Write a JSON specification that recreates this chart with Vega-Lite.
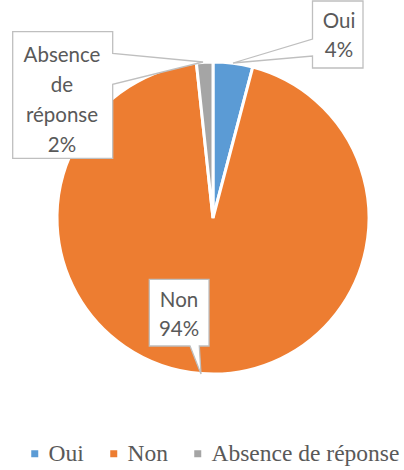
{
  "$schema": "https://vega.github.io/schema/vega-lite/v6.json",
  "width": 382,
  "height": 436,
  "autosize": {"type": "none"},
  "padding": {"left": 22, "top": 0, "right": 0, "bottom": 34},
  "background": "white",
  "config": {"view": {"stroke": null}},
  "data": {
    "values": [
      {"categorie": "Oui", "valeur": 4.1, "ordre": 1},
      {"categorie": "Non", "valeur": 94.2, "ordre": 2},
      {"categorie": "Absence de réponse", "valeur": 1.7, "ordre": 3}
    ]
  },
  "transform": [
    {"calculate": "split(datum.categorie + ' ' + format(datum.valeur / 100, '.0%'), ' ')", "as": "etiquette"}
  ],
  "layer": [
    {
      "mark": {"type": "arc", "outerRadius": 156, "stroke": "white", "strokeWidth": 3},
      "encoding": {
        "theta": {"field": "valeur", "type": "quantitative", "stack": true},
        "order": {"field": "ordre", "type": "quantitative", "sort": "ascending"},
        "color": {
          "field": "categorie",
          "type": "nominal",
          "scale": {"domain": ["Oui", "Non", "Absence de réponse"], "range": ["#5B9BD5", "#ED7D31", "#A5A5A5"]},
          "legend": {
            "orient": "none",
            "legendX": 1,
            "legendY": 442,
            "padding": 0,
            "direction": "horizontal",
            "gridAlign": "none",
            "title": null,
            "symbolType": "square",
            "symbolSize": 49,
            "symbolStrokeWidth": 0,
            "labelFont": "Liberation Serif",
            "labelFontSize": 23.5,
            "labelColor": "#595959",
            "labelOffset": 2,
            "labelLimit": 400,
            "columnPadding": 18
          }
        }
      }
    },
    {
      "transform": [{"filter": "datum.categorie == 'Oui'"}],
      "mark": {"type": "point", "filled": true, "fill": "white", "stroke": "#BFBFBF", "strokeWidth": 1.3, "opacity": 1, "size": 4,
        "shape": "M99.5,-217H150V-150H99.5V-162L20,-155L99.5,-179Z"},
      "encoding": {}
    },
    {
      "transform": [{"filter": "datum.categorie == 'Absence de réponse'"}],
      "mark": {"type": "point", "filled": true, "fill": "white", "stroke": "#BFBFBF", "strokeWidth": 1.3, "opacity": 1, "size": 4,
        "shape": "M-200.3,-186.3H-100.3V-164.7L-10,-156L-100.3,-133.7V-59.7H-200.3Z"},
      "encoding": {}
    },
    {
      "transform": [{"filter": "datum.categorie == 'Non'"}],
      "mark": {"type": "point", "filled": true, "fill": "white", "stroke": "#BFBFBF", "strokeWidth": 1.3, "opacity": 1, "size": 4,
        "shape": "M-63.7,61.3H-4V128H-13.7L-12,156L-23,128H-63.7Z"},
      "encoding": {}
    },
    {
      "transform": [{"filter": "datum.categorie == 'Oui'"}],
      "mark": {"type": "text", "font": "Lato", "fontSize": 20.5, "color": "#595959", "align": "center", "baseline": "alphabetic", "lineHeight": 28.5, "dx": 126, "dy": -190},
      "encoding": {"text": {"field": "etiquette"}}
    },
    {
      "transform": [{"filter": "datum.categorie == 'Absence de réponse'"}],
      "mark": {"type": "text", "font": "Lato", "fontSize": 20.5, "color": "#595959", "align": "center", "baseline": "alphabetic", "lineHeight": 30, "dx": -151, "dy": -156.3},
      "encoding": {"text": {"field": "etiquette"}}
    },
    {
      "transform": [{"filter": "datum.categorie == 'Non'"}],
      "mark": {"type": "text", "font": "Lato", "fontSize": 20.5, "color": "#595959", "align": "center", "baseline": "alphabetic", "lineHeight": 29, "dx": -34, "dy": 88.7},
      "encoding": {"text": {"field": "etiquette"}}
    }
  ]
}
